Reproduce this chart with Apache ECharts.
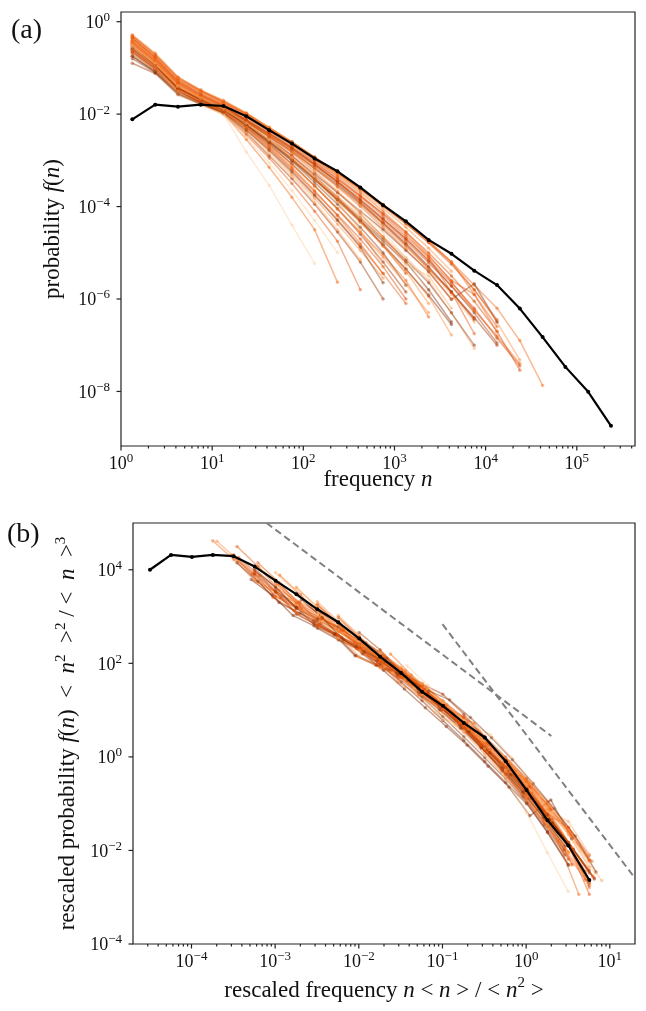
<!DOCTYPE html>
<html><head><meta charset="utf-8">
<script src="https://cdn.jsdelivr.net/npm/echarts@6/dist/echarts.min.js"></script>
<style>html,body{margin:0;padding:0;background:#fff}#c{width:646px;height:1011px}</style>
</head><body><div id="c"></div>
<script>
// ---------- data ----------
// frequency bins n (log-spaced, quarter decade)
const binsN = [1.33, 2.37, 4.22, 7.50, 13.3, 23.7, 42.2, 75.0, 133, 237, 422, 750, 1334, 2371, 4217, 7499, 13335, 23714, 42170, 74989, 133352, 237137];
// aggregated distribution (black curve), probability f(n)
const blackF = [7.7e-3, 1.6e-2, 1.45e-2, 1.6e-2, 1.5e-2, 9.0e-3, 4.5e-3, 2.3e-3, 1.1e-3, 5.8e-4, 2.6e-4, 1.07e-4, 4.8e-5, 1.9e-5, 9.5e-6, 4.1e-6, 2.0e-6, 6.2e-7, 1.5e-7, 3.4e-8, 9.8e-9, 1.8e-9];
// rescaling factors of the black curve: [<n>/<n^2>, <n^2>^2/<n>^3]
const blackRescale = [2.4e-5, 1.3e6];
// individual distributions: log10 f(n) at successive bins (read as powers of ten)
const orangeLogF = [
  [-0.45,-0.85,-1.3,-1.55,-1.78,-2.02,-2.33,-2.64,-2.97,-3.29,-3.63,-3.99,-4.37,-4.78,-5.2,-5.7,-6.2,-6.9,-7.87],
  [-0.5,-0.9,-1.35,-1.6,-1.82,-2.1,-2.4,-2.72,-3.05,-3.4,-3.78,-4.15,-4.55,-5.0,-5.5,-6.05,-6.7,-7.54],
  [-0.4,-0.8,-1.28,-1.52,-1.75,-2.0,-2.31,-2.62,-2.95,-3.27,-3.6,-3.95,-4.33,-4.74,-5.2,-5.8,-6.5,-7.32],
  [-0.55,-0.95,-1.4,-1.65,-1.85,-2.15,-2.48,-2.82,-3.18,-3.55,-3.95,-4.38,-4.85,-5.35,-5.85,-6.4,-7.0],
  [-0.35,-0.75,-1.25,-1.5,-1.72,-1.98,-2.29,-2.6,-2.93,-3.26,-3.6,-3.97,-4.34,-4.74,-5.2,-5.9,-6.71],
  [-0.6,-1.0,-1.45,-1.68,-1.9,-2.2,-2.55,-2.9,-3.3,-3.7,-4.1,-4.5,-4.95,-5.4,-6.01,-5.67,-6.5],
  [-0.5,-0.92,-1.4,-1.66,-1.88,-2.2,-2.56,-2.95,-3.35,-3.78,-4.2,-4.65,-5.1,-5.6,-6.3,-7.07],
  [-0.7,-1.05,-1.5,-1.72,-1.9,-2.25,-2.6,-2.98,-3.4,-3.82,-4.25,-4.7,-5.15,-5.65,-6.3,-7.0],
  [-0.3,-0.72,-1.22,-1.5,-1.75,-2.02,-2.35,-2.68,-3.03,-3.4,-3.78,-4.2,-4.65,-5.1,-5.85,-6.75],
  [-0.45,-0.88,-1.38,-1.64,-1.87,-2.2,-2.58,-2.98,-3.42,-3.88,-4.35,-4.85,-5.35,-5.95,-6.78],
  [-0.65,-1.0,-1.45,-1.7,-1.9,-2.22,-2.6,-3.0,-3.42,-3.85,-4.3,-4.75,-5.2,-5.8,-6.5],
  [-0.5,-0.9,-1.42,-1.68,-1.9,-2.25,-2.65,-3.08,-3.55,-4.05,-4.55,-5.05,-5.6,-6.39],
  [-0.38,-0.8,-1.3,-1.56,-1.8,-2.1,-2.45,-2.82,-3.22,-3.65,-4.1,-4.55,-5.1,-5.9],
  [-0.55,-0.95,-1.45,-1.7,-1.92,-2.3,-2.72,-3.18,-3.68,-4.18,-4.7,-5.3,-6.0],
  [-0.8,-1.1,-1.55,-1.75,-1.92,-2.25,-2.62,-3.02,-3.48,-3.95,-4.45,-5.0,-5.7],
  [-0.5,-0.92,-1.45,-1.72,-1.95,-2.35,-2.8,-3.3,-3.82,-4.38,-4.95,-5.55],
  [-0.42,-0.85,-1.38,-1.64,-1.88,-2.2,-2.58,-2.98,-3.42,-3.9,-4.5,-5.3],
  [-0.6,-1.0,-1.52,-1.78,-2.0,-2.45,-2.95,-3.5,-4.1,-4.75,-5.8],
  [-0.6,-1.0,-1.55,-1.8,-2.0,-2.82,-3.54,-4.4,-5.23],
  [-0.5,-0.95,-1.5,-1.76,-1.98,-2.55,-3.15,-3.8,-4.5,-5.64],
  [-0.65,-1.02,-1.5,-1.75,-1.97,-2.4,-2.9,-3.4,-3.95,-4.55,-5.2,-6.0],
  [-0.3,-0.7,-1.2,-1.48,-1.72,-1.99,-2.3,-2.6,-2.93,-3.27,-3.62,-3.99,-4.37,-4.78,-5.25,-5.8,-6.45],
  [-0.28,-0.68,-1.2,-1.48,-1.7,-1.97,-2.28,-2.6,-2.95,-3.3,-3.66,-4.04,-4.45,-4.9,-5.4],
  [-0.75,-1.08,-1.52,-1.74,-1.92,-2.18,-2.48,-2.8,-3.15,-3.52,-3.92,-4.35,-4.8,-5.3,-5.85,-6.45],
  [-0.45,-0.85,-1.35,-1.62,-1.86,-2.15,-2.48,-2.84,-3.25,-3.68,-4.15,-4.65,-5.2],
  [-0.9,-1.12,-1.58,-1.78,-1.95,-2.28,-2.66,-3.08,-3.55,-4.05,-4.6,-5.2,-5.85],
  [-0.35,-0.78,-1.28,-1.55,-1.78,-2.06,-2.38,-2.72,-3.08,-3.46,-3.88,-4.3,-4.75,-5.22,-5.72,-6.25,-6.8,-7.4],
  [-0.52,-0.9,-1.4,-1.66,-1.88,-2.16,-2.47,-2.8,-3.16,-3.55,-3.96,-4.4,-4.86,-5.35,-5.9,-6.5],
  [-0.4,-0.82,-1.33,-1.6,-1.83,-2.12,-2.45,-2.8,-3.18,-3.58,-4.0,-4.45,-4.92,-5.42,-6.0],
  [-0.62,-1.0,-1.48,-1.72,-1.93,-2.28,-2.68,-3.1,-3.56,-4.05,-4.56,-5.1,-5.68,-6.3],
  [-0.48,-0.88,-1.36,-1.62,-1.85,-2.12,-2.42,-2.75,-3.1,-3.48,-3.9,-4.35,-4.82,-5.32,-5.86,-6.42],
  [-0.36,-0.78,-1.3,-1.58,-1.82,-2.14,-2.5,-2.9,-3.34,-3.8,-4.3,-4.85,-5.45],
  [-0.7,-1.05,-1.55,-1.8,-2.0,-2.4,-2.85,-3.35,-3.9,-4.5,-5.15],
  [-0.45,-0.88,-1.4,-1.68,-1.92,-2.28,-2.7,-3.15,-3.65,-4.2,-4.8,-5.45],
  [-0.55,-0.95,-1.42,-1.66,-1.87,-2.13,-2.42,-2.74,-3.08,-3.45,-3.84,-4.26,-4.7,-5.18,-5.72,-6.3,-6.95],
  [-0.58,-0.96,-1.44,-1.69,-1.9,-2.22,-2.58,-2.97,-3.4,-3.85,-4.32,-4.82,-5.35,-5.92,-6.55],
  [-0.42,-0.84,-1.36,-1.63,-1.86,-2.18,-2.55,-2.95,-3.38,-3.84,-4.33,-4.85,-5.4,-6.1],
  [-0.66,-1.02,-1.5,-1.74,-1.95,-2.32,-2.75,-3.22,-3.74,-4.28,-4.85,-5.45,-6.1],
  [-0.55,-0.97,-1.52,-1.79,-2.02,-2.5,-3.05,-3.65,-4.3,-5.0],
  [-0.33,-0.74,-1.24,-1.51,-1.74,-2.0,-2.32,-2.64,-2.98,-3.33,-3.7,-4.1,-4.55,-5.05,-5.62,-6.25],
  [-0.6,-0.98,-1.45,-1.69,-1.9,-2.16,-2.45,-2.77,-3.11,-3.47,-3.86,-4.27,-4.7,-5.15,-5.65,-6.2,-6.85,-7.45],
  [-0.5,-0.9,-1.4,-1.66,-1.89,-2.2,-2.55,-2.93,-3.34,-3.78,-4.25,-4.74,-5.26,-5.5,-6.2],
  [-0.75,-1.08,-1.55,-1.78,-1.97,-2.35,-2.78,-3.25,-3.76,-4.3,-4.88,-5.65],
  [-0.42,-0.83,-1.32,-1.58,-1.8,-2.06,-2.35,-2.66,-3.0,-3.36,-3.75,-4.16,-4.6,-5.08,-5.6,-5.9,-6.6]
];
// per-distribution rescaling, as powers of ten: log10(<n>/<n^2>) and log10(<n^2>^2/<n>^3)
const rescaleLogX = [-3.87,-3.62,-3.82,-3.37,-3.62,-3.58,-3.12,-3.37,-3.33,-2.87,-3.12,-2.62,-2.87,-2.62,-2.67,-2.37,-2.32,-1.87,-1.62,-1.745,-2.12,-3.65,-3.33,-3.41,-2.59,-2.66,-3.58,-3.31,
  -3.07,-2.62,-3.09,-2.37,-1.72,-2.16,-3.37,-2.81,-2.62,-2.42,-1.55,-3.12,-3.56,-2.87,-2.04,-3.37];
const rescaleLogY = [5.07,4.79,5.01,4.57,4.67,4.75,4.44,4.68,4.45,4.07,4.20,3.74,3.84,3.81,3.71,3.52,3.30,2.86,2.35,2.70,3.31,4.61,4.35,4.54,3.57,3.75,4.85,4.55,
  4.29,3.62,4.19,3.34,2.50,3.00,4.47,3.94,3.74,3.47,2.50,4.03,4.86,4.12,3.19,4.39];
// dashed guide lines in panel (b)
const guide1X = [7.9e-4, 2.0], guide1Y = [1.0e5, 2.8];
const guide2X = [0.1, 20], guide2Y = [686, 2.55e-3];
// tick labels (exponents of ten)
const xTickExpA = [0,1,2,3,4,5];
const yTickExpA = [-8,-6,-4,-2,0];
const xTickExpB = [-4,-3,-2,-1,0,1];
const yTickExpB = [-4,-2,0,2,4];

// ---------- styling / layout ----------
const lineColors = ['#f16913','#d94801','#fd8d3c','#a63603','#f16913','#7f2704','#fdae6b','#8c3a10','#e6550d','#fd8d3c','#7f2704','#f16913','#fdd0a2','#d94801','#8c3a10','#fd8d3c','#fdae6b','#e6550d','#fdd0a2','#f16913','#a63603','#d94801','#fd8d3c','#7f2704','#f16913','#a63603','#e6550d','#fdae6b',
  '#f16913','#fd8d3c','#e6550d','#d94801','#fdae6b','#f16913','#a63603','#7f2704','#fd8d3c','#e6550d','#fdd0a2','#f16913','#d94801','#fdae6b','#8c3a10','#e6550d'];
const A = {xMin:1, xMax:4.35e5, yMin:6.6e-10, yMax:1.62};
const B = {xMin:2e-5, xMax:20, yMin:1e-4, yMax:1e5};
const FONT = '"Liberation Serif", "Times New Roman", serif';
const INK = '#111';
const ALPHA = 0.45;

const richLabel = {
  b: {fontFamily: FONT, fontSize: 18, lineHeight: 18, verticalAlign: 'bottom', color: INK},
  s: {fontFamily: FONT, fontSize: 13, lineHeight: 21, padding: [0,0,8,0], verticalAlign: 'top', color: INK}
};
const richName = {
  r: {fontFamily: FONT, fontSize: 23, lineHeight: 23, verticalAlign: 'bottom', color: INK},
  i: {fontFamily: FONT, fontSize: 23, lineHeight: 23, verticalAlign: 'bottom', fontStyle: 'italic', color: INK},
  p: {fontFamily: FONT, fontSize: 15, lineHeight: 26, padding: [0,0,11,0], verticalAlign: 'top', color: INK}
};
function fmt(exps) {
  return function (v) {
    const l = Math.log10(v), e = Math.round(l);
    if (Math.abs(l - e) > 1e-6 || exps.indexOf(e) < 0) return '';
    return '{b|10}{s|' + (e < 0 ? '\u2212' : '') + Math.abs(e) + '}';
  };
}
function minorVals(k0, k1, lo, hi) {
  const out = [];
  for (let k = k0; k <= k1; k++) for (let m = 2; m <= 9; m++) {
    const v = m * Math.pow(10, k);
    if (v > lo * 1.001 && v < hi * 0.999) out.push(v);
  }
  return out;
}
function xTicks(xi, vals, yBase, len) {
  return {
    type: 'custom', xAxisIndex: xi, yAxisIndex: xi, silent: true, z: 10, clip: false,
    data: vals.map(v => [v, yBase]),
    renderItem: function (params, api) {
      const p = api.coord([api.value(0), api.value(1)]);
      return {type: 'line', shape: {x1: p[0], y1: p[1], x2: p[0], y2: p[1] + len}, style: {stroke: '#222', lineWidth: 1.2}};
    }
  };
}
function yTicks(yi, vals, xBase, len) {
  return {
    type: 'custom', xAxisIndex: yi, yAxisIndex: yi, silent: true, z: 10, clip: false,
    data: vals.map(v => [xBase, v]),
    renderItem: function (params, api) {
      const p = api.coord([api.value(0), api.value(1)]);
      return {type: 'line', shape: {x1: p[0] - len, y1: p[1], x2: p[0], y2: p[1]}, style: {stroke: '#222', lineWidth: 1.2}};
    }
  };
}
function baseAxis(gi, mn, mx, exps, margin) {
  return {
    type: 'log', logBase: 10, gridIndex: gi, min: mn, max: mx,
    axisLine: {show: false}, axisTick: {show: false}, splitLine: {show: false}, minorTick: {show: false},
    axisLabel: {formatter: fmt(exps), rich: richLabel, margin: margin}
  };
}

const series = [];
// panel (a) individual curves
orangeLogF.forEach((arr, i) => {
  const c = lineColors[i % lineColors.length];
  series.push({
    type: 'line', xAxisIndex: 0, yAxisIndex: 0, silent: true, z: 2,
    data: arr.map((lf, k) => [binsN[k], Math.pow(10, lf)]),
    symbol: 'circle', symbolSize: 3.5,
    lineStyle: {width: 1.5, color: c, opacity: ALPHA}, itemStyle: {color: c, opacity: ALPHA}
  });
});
// panel (b) rescaled individual curves
orangeLogF.forEach((arr, i) => {
  const c = lineColors[i % lineColors.length];
  const sx = Math.pow(10, rescaleLogX[i]), sy = Math.pow(10, rescaleLogY[i]);
  series.push({
    type: 'line', xAxisIndex: 1, yAxisIndex: 1, silent: true, z: 2,
    data: arr.map((lf, k) => [binsN[k] * sx, Math.pow(10, lf) * sy]),
    symbol: 'circle', symbolSize: 3.5,
    lineStyle: {width: 1.5, color: c, opacity: ALPHA}, itemStyle: {color: c, opacity: ALPHA}
  });
});
// black curves
series.push({
  type: 'line', xAxisIndex: 0, yAxisIndex: 0, silent: true, z: 5,
  data: blackF.map((f, k) => [binsN[k], f]),
  symbol: 'circle', symbolSize: 4, lineStyle: {width: 2.2, color: '#000'}, itemStyle: {color: '#000'}
});
series.push({
  type: 'line', xAxisIndex: 1, yAxisIndex: 1, silent: true, z: 5,
  data: blackF.map((f, k) => [binsN[k] * blackRescale[0], f * blackRescale[1]]),
  symbol: 'circle', symbolSize: 4, lineStyle: {width: 2.2, color: '#000'}, itemStyle: {color: '#000'}
});
// dashed guides
[[guide1X, guide1Y], [guide2X, guide2Y]].forEach(g => {
  series.push({
    type: 'line', xAxisIndex: 1, yAxisIndex: 1, silent: true, z: 6, symbol: 'none',
    data: g[0].map((x, j) => [x, g[1][j]]),
    lineStyle: {width: 2, color: '#808080', type: [7, 4]}
  });
});
// ticks
series.push(xTicks(0, xTickExpA.map(e => Math.pow(10, e)), A.yMin, 4.5));
series.push(xTicks(0, minorVals(0, 5, A.xMin, A.xMax), A.yMin, 2.5));
series.push(yTicks(0, yTickExpA.map(e => Math.pow(10, e)), A.xMin, 4.5));
series.push(xTicks(1, xTickExpB.map(e => Math.pow(10, e)), B.yMin, 4.5));
series.push(xTicks(1, minorVals(-5, 1, B.xMin, B.xMax), B.yMin, 2.5));
series.push(yTicks(1, yTickExpB.map(e => Math.pow(10, e)), B.xMin, 4.5));

const E = '\u2002';
const chart = echarts.init(document.getElementById('c'), null, {renderer: 'canvas'});
chart.setOption({
  animation: false,
  backgroundColor: '#fff',
  grid: [
    {left: 121, top: 12, right: 11, bottom: 565, show: true, borderColor: '#222', borderWidth: 1.2, backgroundColor: 'transparent'},
    {left: 133, top: 523, right: 11, bottom: 67, show: true, borderColor: '#222', borderWidth: 1.2, backgroundColor: 'transparent'}
  ],
  xAxis: [
    Object.assign(baseAxis(0, A.xMin, A.xMax, xTickExpA, 6), {
      name: '{r|frequency }{i|n}', nameLocation: 'middle', nameGap: 22, nameMoveOverlap: false,
      nameTextStyle: {rich: richName}
    }),
    Object.assign(baseAxis(1, B.xMin, B.xMax, xTickExpB, 6), {
      name: '{r|rescaled frequency }{i|n}{r| < }{i|n}{r| > / < }{i|n}{p|2}{r| >}', nameLocation: 'middle', nameGap: 32,
      nameTextStyle: {rich: richName}
    })
  ],
  yAxis: [
    Object.assign(baseAxis(0, A.yMin, A.yMax, yTickExpA, 11), {
      name: '{r|probability }{i|f}{r|(}{i|n}{r|)}', nameLocation: 'middle', nameGap: 57, nameRotate: 90,
      nameTextStyle: {rich: richName}
    }),
    Object.assign(baseAxis(1, B.yMin, B.yMax, yTickExpB, 11), {
      name: '{r|rescaled probability }{i|f}{r|(}{i|n}{r|)' + E + '<' + E + '}{i|n}{p|2}{r|' + E + '>}{p|2}{r| / <' + E + '}{i|n}{r|' + E + '>}{p|3}',
      nameLocation: 'middle', nameGap: 50, nameRotate: 90,
      nameTextStyle: {rich: richName}
    })
  ],
  graphic: [
    {type: 'text', left: 11, top: 17, style: {text: '(a)', font: '28px ' + FONT, fill: INK}},
    {type: 'text', left: 7, top: 521, style: {text: '(b)', font: '28px ' + FONT, fill: INK}}
  ],
  series: series
});
</script></body></html>
